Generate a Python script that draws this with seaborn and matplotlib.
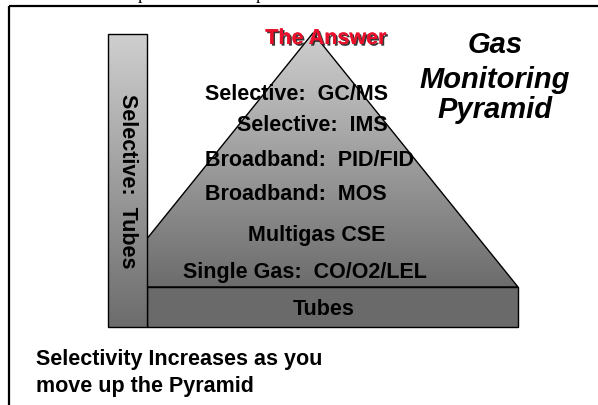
import matplotlib
matplotlib.use("Agg")
import matplotlib.pyplot as plt
import matplotlib.patheffects as pe
from matplotlib.patches import Polygon, Rectangle
import numpy as np
import seaborn as sns

# text content of the diagram
tiers = ["Selective:  GC/MS", "Selective:  IMS", "Broadband:  PID/FID",
         "Broadband:  MOS", "Multigas CSE", "Single Gas:  CO/O2/LEL"]
base_label = "Tubes"
side_label = "Selective:  Tubes"
top_label = "The Answer"
title_lines = ["Gas", "Monitoring", "Pyramid"]
note_lines = ["Selectivity Increases as you", "move up the Pyramid"]

# layout (pixel coords, y down)
W, H = 598, 406
apex = (313, 34)
base_y, base_r = 288, 518
bar = (108, 35, 147, 328)          # x0, y0, x1, y1
tier_x = [205, 237, 205, 205, 248, 183]
tier_y = [100, 131, 166, 200, 241, 278]

sns.set_theme(style="white", rc={"text.color": "black"})
plt.rcParams["font.family"] = ["Liberation Sans", "DejaVu Sans"]

fig = plt.figure(figsize=(W / 100, H / 100), dpi=100)
ax = fig.add_axes([0, 0, 1, 1])
ax.set_xlim(0, W)
ax.set_ylim(H, 0)
ax.axis("off")

grey = sns.blend_palette(["#cfcfcf", "#6c6c6c"], as_cmap=True)
grad = np.linspace(0, 1, 256).reshape(-1, 1)

# pyramid, cut where it meets the side bar
slope = (base_y - apex[1]) / (base_r - apex[0])
cut_y = apex[1] + (apex[0] - bar[2]) * slope
tri = Polygon([apex, (base_r, base_y), (bar[2], base_y), (bar[2], cut_y)],
              closed=True, facecolor="none", edgecolor="black", lw=1.0, zorder=3)
ax.add_patch(tri)
im = ax.imshow(grad, cmap=grey, aspect="auto",
               extent=(bar[2], base_r, base_y, apex[1]), zorder=2)
im.set_clip_path(tri)

# bottom "Tubes" slab
ax.add_patch(Rectangle((bar[2], base_y), base_r - bar[2], bar[3] - base_y,
                       facecolor="#6a6a6a", edgecolor="black", lw=1.0, zorder=4))

# vertical side bar
side = Rectangle((bar[0], bar[1]), bar[2] - bar[0], bar[3] - bar[1],
                 facecolor="none", edgecolor="black", lw=1.0, zorder=6)
ax.add_patch(side)
im2 = ax.imshow(grad, cmap=grey, aspect="auto",
                extent=(bar[0], bar[2], bar[3], bar[1]), zorder=5)
im2.set_clip_path(side)

# frame lines
ax.plot([9, W], [7, 7], color="black", lw=1.6, solid_capstyle="butt", zorder=1)
ax.plot([9, 9], [7, H], color="black", lw=1.6, solid_capstyle="butt", zorder=1)

# clipped caption above frame
for px in [142, 260]:
    ax.text(px, -1, "p", family="Liberation Serif", fontsize=13, color="black",
            ha="center", va="baseline", zorder=1)

fs = 15.5
for lab, x, y in zip(tiers, tier_x, tier_y):
    ax.text(x, y, lab, fontsize=fs, fontweight="bold", ha="left",
            va="baseline", color="black", zorder=7)
ax.text(324, 315, base_label, fontsize=fs, fontweight="bold", ha="center",
        va="baseline", color="black", zorder=7)
ax.text(127.5, 181, side_label, fontsize=fs, fontweight="bold", rotation=270,
        ha="center", va="center", color="black", zorder=7)

ax.text(326, 45, top_label, fontsize=15.5, fontweight="bold", color="#e8102a",
        ha="center", va="baseline", zorder=8,
        path_effects=[pe.withSimplePatchShadow(offset=(1.2, -1.2),
                                               shadow_rgbFace="#222222", alpha=0.9),
                      pe.Normal()])

for lab, y in zip(title_lines, [53, 88, 118]):
    ax.text(495, y, lab, fontsize=21, fontweight="bold", fontstyle="italic",
            ha="center", va="baseline", color="black", zorder=7)

for lab, y in zip(note_lines, [365, 392]):
    ax.text(36, y, lab, fontsize=15.5, fontweight="bold", ha="left",
            va="baseline", color="black", zorder=7)

fig.savefig("out.png", dpi=100)
